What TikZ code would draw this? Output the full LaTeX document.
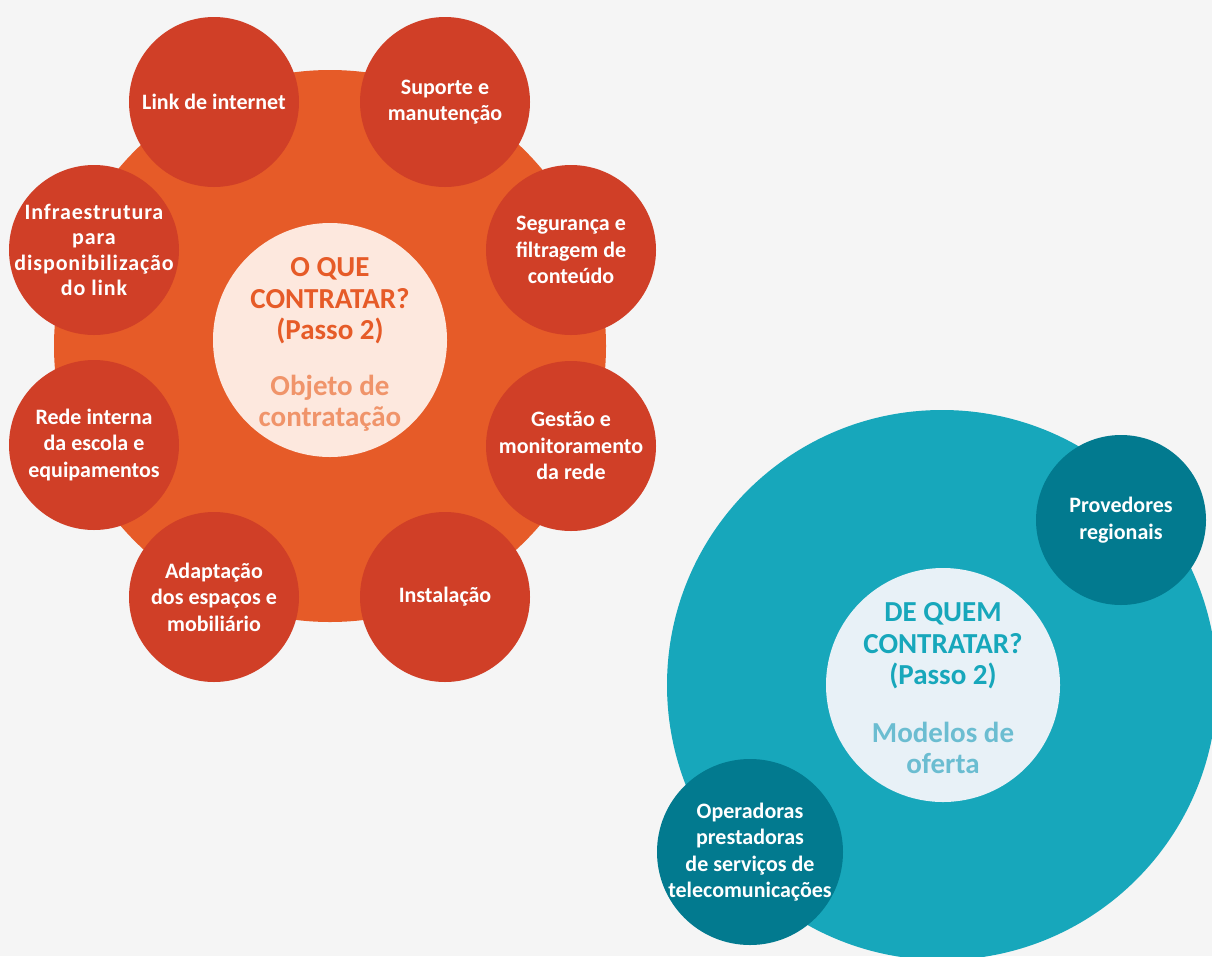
\documentclass[tikz,border=0pt]{standalone}
\usepackage{fontspec}
\setmainfont{Carlito}
\newfontfamily\widefont[LetterSpace=4]{Carlito}
\usepackage{tikz}
\usetikzlibrary{positioning}
\definecolor{paper}{RGB}{245,245,245}
\definecolor{hubred}{RGB}{230,91,40}
\definecolor{itemred}{RGB}{208,63,39}
\definecolor{corered}{RGB}{253,232,222}
\definecolor{subred}{RGB}{240,148,106}
\definecolor{hubteal}{RGB}{23,167,187}
\definecolor{itemteal}{RGB}{2,122,143}
\definecolor{coreteal}{RGB}{232,241,247}
\definecolor{subteal}{RGB}{107,189,209}
\tikzstyle{hub}=[%
      circle, fill=hubred, inner sep=0pt, minimum size=552pt
]
\tikzstyle{core}=[%
      circle, fill=corered, inner sep=0pt, minimum size=234pt
]
\tikzstyle{item}=[%
      circle, fill=itemred, inner sep=-25pt, minimum size=170pt,
      text=white, align=center, font=\bfseries\fontsize{22}{26.5}\selectfont
]
\tikzstyle{ask}=[%
      text=hubred, align=center, font=\bfseries\fontsize{29}{31.5}\selectfont
]
\tikzstyle{sub}=[%
      text=subred, align=center, font=\bfseries\fontsize{29}{31}\selectfont
]

\begin{document}
\begin{tikzpicture}[x=1pt, y=-1pt]
    \fill[paper] (0,0) rectangle (1212,956);
    \useasboundingbox (0,0) rectangle (1212,956);

    % O que contratar
    \node[hub]  (what)     at (330,346) {};
    \node[core] (whatcore) at (330,340) {};
    \node[ask]  (whatask)  at (330,301) {O QUE\\CONTRATAR?\\(Passo 2)};
    \node[sub]  (whatsub)  at (330,403) {Objeto de\\contratação};

    \node[item] (link)   at (214,102) {Link de internet};
    \node[item] (suporte) at (445,102) {Suporte e\\manutenção};
    \node[item, font=\widefont\bfseries\fontsize{22}{25.5}\selectfont]
                (infra)  at (94,250)  {Infraestrutura\\para\\disponibilização\\do link};
    \node[item] (seg)    at (571,250) {Segurança e\\filtragem de\\conteúdo};
    \node[item] (rede)   at (94,445)  {Rede interna\\da escola e\\equipamentos};
    \node[item] (gestao) at (571,446) {Gestão e\\monitoramento\\da rede};
    \node[item] (adapt)  at (214,597) {Adaptação\\dos espaços e\\mobiliário};
    \node[item] (inst)   at (445,597) {Instalação};

    % De quem contratar
    \node[hub, fill=hubteal, minimum size=550pt]  (who)     at (942,685) {};
    \node[core, fill=coreteal]                    (whocore) at (943,685) {};
    \node[ask, text=hubteal]                      (whoask)  at (943,646) {DE QUEM\\CONTRATAR?\\(Passo 2)};
    \node[sub, text=subteal]                      (whosub)  at (943,748) {Modelos de\\oferta};

    \node[item, fill=itemteal]                    (prov) at (1121,520) {Provedores\\regionais};
    \node[item, fill=itemteal, minimum size=186pt] (oper) at (750,852)
        {Operadoras\\prestadoras\\de serviços de\\telecomunicações};
\end{tikzpicture}
\end{document}
